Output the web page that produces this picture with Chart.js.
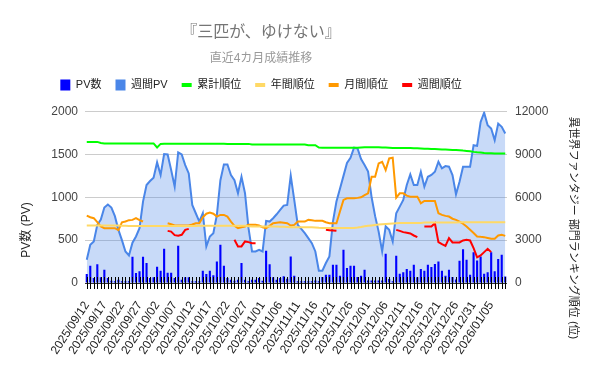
<!DOCTYPE html>
<html>
<head>
<meta charset="utf-8">
<script src="https://cdn.jsdelivr.net/npm/chart.js@4"></script>
<style>
  body { margin: 0; background: #fff; }
</style>
</head>
<body>
<canvas id="grafico" width="600" height="371"></canvas>
<script>
// 日付（2025/09/12 から 120 日）
const dias = [];
for (let i = 0; i < 120; i++) {
    const d = new Date(2025, 8, 12 + i);
    dias.push(d.getFullYear() + '/' + String(d.getMonth() + 1).padStart(2, '0') + '/' + String(d.getDate()).padStart(2, '0'));
}

// PV数（日別）
const pvDiario = [
    105, 200, 58, 220, 66, 155, 58, 27, 20, 39,
    20, 20, 20, 306, 116, 136, 306, 232, 58, 66,
    190, 143, 400, 120, 120, 58, 434, 39, 66, 66,
    20, 20, 20, 143, 105, 143, 89, 252, 446, 200,
    58, 39, 27, 39, 232, 39, 20, 39, 39, 58,
    27, 376, 220, 66, 39, 58, 78, 50, 310, 85,
    20, 20, 20, 20, 20, 30, 20, 70, 97, 97,
    213, 213, 85, 388, 174, 200, 200, 70, 85, 155,
    30, 30, 30, 30, 30, 341, 47, 20, 318, 108,
    124, 163, 143, 213, 66, 163, 143, 213, 186, 221,
    252, 143, 85, 155, 70, 40, 260, 395, 271, 97,
    360, 264, 310, 108, 124, 360, 136, 279, 329, 77
];

// 週間PV
const pvSemanal = [
    271, 446, 484, 678, 740, 880, 915, 880, 780, 620,
    500, 368, 322, 470, 543, 640, 950, 1143, 1190, 1229,
    1407, 1260, 1504, 1500, 1318, 1124, 1523, 1500, 1376, 1279,
    911, 814, 717, 814, 426, 543, 581, 795, 1200, 1384,
    1384, 1260, 1200, 1047, 1240, 1047, 640, 368, 368, 388,
    368, 725, 717, 756, 802, 853, 903, 911, 1252, 969,
    678, 632, 581, 523, 465, 368, 143, 143, 233, 310,
    717, 950, 1100, 1250, 1400, 1461, 1578, 1570, 1446, 1376,
    1300, 1000, 780, 600, 368, 660, 620, 484, 814, 891,
    969, 1143, 1267, 1143, 1143, 1298, 1124, 1240, 1260, 1298,
    1415, 1337, 1364, 1357, 1260, 1035, 1182, 1357, 1357, 1357,
    1608, 1600, 1880, 1988, 1841, 1802, 1667, 1860, 1822, 1744
];

// 累計順位
const rankTotal = [
    9880, 9880, 9880, 9880, 9800, 9770, 9770, 9770, 9770, 9770,
    9770, 9770, 9770, 9770, 9770, 9770, 9770, 9770, 9770, 9770,
    9490, 9740, 9750, 9750, 9750, 9750, 9750, 9750, 9750, 9750,
    9750, 9750, 9750, 9750, 9750, 9750, 9750, 9750, 9750, 9750,
    9740, 9740, 9740, 9740, 9740, 9740, 9740, 9700, 9700, 9700,
    9700, 9700, 9700, 9700, 9700, 9700, 9700, 9700, 9700, 9700,
    9700, 9700, 9700, 9650, 9650, 9650, 9480, 9470, 9470, 9470,
    9470, 9470, 9470, 9470, 9470, 9470, 9470, 9470, 9490, 9510,
    9510, 9510, 9500, 9500, 9490, 9480, 9470, 9460, 9460, 9460,
    9460, 9450, 9450, 9440, 9430, 9420, 9400, 9400, 9390, 9380,
    9370, 9350, 9340, 9330, 9320, 9310, 9300, 9270, 9250, 9230,
    9180, 9150, 9130, 9100, 9090, 9080, 9075, 9075, 9070, 9070
];

// 年間順位
const rankYear = [
    4020, 4020, 4020, 4020, 4020, 4020, 4020, 4020, 4020, 4020,
    4010, 4000, 3990, 3990, 3990, 3990, 3990, 3990, 3990, 3990,
    3990, 3990, 3990, 3990, 3990, 3990, 3990, 3990, 3990, 3990,
    3990, 3990, 4000, 4000, 4000, 4000, 4000, 4000, 4000, 4000,
    4000, 4000, 4000, 4000, 4000, 4000, 3980, 3960, 3950, 3950,
    3950, 3950, 3950, 3950, 3950, 3940, 3930, 3920, 3910, 3900,
    3900, 3900, 3900, 3900, 3900, 3880, 3860, 3850, 3850, 3850,
    3850, 3850, 3850, 3850, 3850, 3850, 3850, 3880, 3920, 3970,
    4000, 4030, 4060, 4090, 4110, 4130, 4150, 4170, 4190, 4200,
    4200, 4200, 4200, 4200, 4200, 4200, 4230, 4230, 4230, 4230,
    4230, 4230, 4230, 4230, 4230, 4230, 4250, 4250, 4250, 4250,
    4250, 4250, 4250, 4250, 4250, 4250, 4250, 4250, 4250, 4250
];

// 月間順位
const rankMonth = [
    4722, 4605, 4536, 4257, 3954, 3838, 3838, 3838, 3838, 3700,
    4250, 4303, 4400, 4419, 4536, 4400, 4303, null, null, null,
    null, null, null, 4187, 4117, 4024, 4024, 4024, 4024, 4024,
    4100, 4187, 4187, 4600, 4850, 4931, 4850, 4652, 4768, 4768,
    4650, 4300, 4000, 3838, 3900, 3954, 4070, 4070, 4070, 4024,
    3900, 3838, 4000, 4187, 4220, 4257, 4220, 4187, 4024, 4070,
    4303, 4303, 4303, 4419, 4400, 4350, 4350, 4350, 4257, 4187,
    4187, 4187, 5000, 5815, 5931, 5931, 5931, 5960, 6000, 6150,
    6280, 7443, 7443, 8374, 8490, 7908, 8723, 8769, 5978, 6280,
    6280, 6117, 6047, 6047, 6047, 5582, 5745, 5745, 5745, 5745,
    4885, 4768, 4700, 4652, 4500, 4419, 4303, 4150, 3954, 3722,
    3500, 3256, 3230, 3210, 3150, 3094, 3100, 3326, 3373, 3300
];

// 週間順位
const rankWeek = [
    null, null, null, null, null, null, null, null, null, null,
    null, null, null, null, null, null, null, null, null, null,
    null, null, null, 3650, 3600, 3350, 3303, 3373, 3722, 3792,
    null, null, null, null, null, null, null, null, null, null,
    null, null, 3024, 2559, 2559, 2908, 2861, 2791, 2791, null,
    null, null, null, null, null, null, null, null, null, null,
    null, null, null, null, null, null, null, null, 3722, 3700,
    3680, 3650, null, null, null, null, null, null, null, null,
    null, null, null, null, null, null, null, null, 3722, 3650,
    3560, 3512, 3466, 3326, 3210, null, 3954, 3954, 3954, 4187,
    2861, 2720, 2600, 3140, 2838, 2838, 2838, 2977, 3024, 2977,
    2442, 1791, 1930, 2163, 2396, 2163, null, null, null, null
];

Chart.defaults.font.family = "'Liberation Sans', 'Noto Sans CJK JP', sans-serif";

// 軸タイトルと目盛り線
const extras = {
    id: 'extras',
    beforeLayout(chart) {
        const lg = chart.legend;
        if (lg && !lg._ajustado) {
            const fit = lg.fit;
            lg.fit = function () { fit.call(this); this.height += 11; };
            lg._ajustado = true;
        }
    },
    beforeDraw(chart) {
        // 右軸ラベルを切り取らない
        chart.scales.y1._computeLabelArea = () => undefined;
    },
    afterDatasetsDraw(chart) {
        const { ctx, scales: { x, y } } = chart;
        const y0 = Math.round(y.getPixelForValue(0));
        ctx.save();
        ctx.strokeStyle = '#000';
        ctx.lineWidth = 1;
        ctx.beginPath();
        dias.forEach((d, i) => {
            const px = Math.round(x.getPixelForValue(i)) + 0.5;
            ctx.moveTo(px, y0 - 6);
            ctx.lineTo(px, y0 + 6);
        });
        ctx.stroke();
        ctx.restore();
    },
    afterDraw(chart) {
        const ctx = chart.ctx;
        ctx.save();
        ctx.fillStyle = '#222';
        ctx.font = "12px 'Liberation Sans', 'Noto Sans CJK JP', sans-serif";
        ctx.textAlign = 'center';
        ctx.textBaseline = 'middle';
        ctx.translate(27, 230);
        ctx.rotate(-Math.PI / 2);
        ctx.fillText('PV数 (PV)', 0, 0);
        ctx.restore();
        ctx.save();
        ctx.fillStyle = '#222';
        ctx.font = "11px 'Liberation Sans', 'Noto Sans CJK JP', sans-serif";
        ctx.textAlign = 'center';
        ctx.textBaseline = 'middle';
        ctx.translate(573, 228);
        ctx.rotate(Math.PI / 2);
        ctx.fillText('異世界ファンタジー 部門ランキング順位 (位)', 0, 0);
        ctx.restore();
    }
};

const ctx = document.getElementById('grafico').getContext('2d');

const grafico = new Chart(ctx, {
    type: 'bar',
    data: {
        labels: dias,
        datasets: [
            {
                type: 'bar',
                label: 'PV数',
                data: pvDiario,
                backgroundColor: '#0000ff',
                barPercentage: 0.6,
                categoryPercentage: 1,
                yAxisID: 'y',
                order: 2
            },
            {
                type: 'line',
                label: '週間PV',
                data: pvSemanal,
                borderColor: '#4a86e8',
                backgroundColor: 'rgba(74, 134, 232, 0.3)',
                fill: 'origin',
                borderWidth: 2,
                pointRadius: 0,
                tension: 0,
                yAxisID: 'y',
                order: 3
            },
            {
                type: 'line',
                label: '累計順位',
                data: rankTotal,
                borderColor: '#00ff00',
                backgroundColor: '#00ff00',
                fill: false,
                borderWidth: 2,
                pointRadius: 0,
                yAxisID: 'y1',
                order: 1
            },
            {
                type: 'line',
                label: '年間順位',
                data: rankYear,
                borderColor: '#ffd966',
                backgroundColor: '#ffd966',
                fill: false,
                borderWidth: 2,
                pointRadius: 0,
                yAxisID: 'y1',
                order: 1
            },
            {
                type: 'line',
                label: '月間順位',
                data: rankMonth,
                borderColor: '#ff9900',
                backgroundColor: '#ff9900',
                fill: false,
                borderWidth: 2,
                pointRadius: 0,
                yAxisID: 'y1',
                order: 1
            },
            {
                type: 'line',
                label: '週間順位',
                data: rankWeek,
                borderColor: '#ff0000',
                backgroundColor: '#ff0000',
                fill: false,
                borderWidth: 2,
                pointRadius: 0,
                yAxisID: 'y1',
                order: 1
            }
        ]
    },
    options: {
        responsive: false,
        animation: false,
        layout: { padding: { right: 78 } },
        plugins: {
            title: {
                display: true,
                text: '『三匹が、ゆけない』',
                color: '#757575',
                font: { size: 16, weight: 'normal' },
                padding: { top: 23, bottom: 5 }
            },
            subtitle: {
                display: true,
                text: '直近4カ月成績推移',
                color: '#999999',
                font: { size: 12 },
                padding: { top: 4, bottom: 0 }
            },
            legend: {
                labels: {
                    usePointStyle: true,
                    pointStyleWidth: 10,
                    boxHeight: 11,
                    padding: 14,
                    color: '#222',
                    font: { size: 11 },
                    sort: (a, b) => a.datasetIndex - b.datasetIndex,
                    generateLabels(chart) {
                        const items = Chart.defaults.plugins.legend.labels.generateLabels(chart);
                        items.forEach(it => {
                            const ds = chart.data.datasets[it.datasetIndex];
                            if (ds.type === 'line' && !ds.fill) {
                                it.pointStyle = 'line';
                                it.lineWidth = 4;
                                it.strokeStyle = ds.borderColor;
                            } else {
                                it.pointStyle = 'rect';
                                it.lineWidth = 0;
                                it.fillStyle = ds.type === 'line' ? ds.borderColor : ds.backgroundColor;
                            }
                        });
                        return items;
                    }
                }
            },
            tooltip: { enabled: false }
        },
        scales: {
            x: {
                grid: { display: false, drawTicks: false },
                border: { display: false },
                ticks: {
                    autoSkip: false,
                    maxRotation: 57,
                    minRotation: 57,
                    padding: 16,
                    color: '#222',
                    font: { size: 12 },
                    callback: (v, i) => (i % 5 === 0 ? dias[i] : '')
                },
                afterFit: s => { s.height = 88; }
            },
            y: {
                position: 'left',
                min: 0,
                max: 2000,
                ticks: {
                    stepSize: 500,
                    color: '#444',
                    font: { size: 12 },
                    padding: 7,
                    callback: v => String(v)
                },
                grid: {
                    color: c => (c.tick.value === 0 ? '#333' : '#cccccc'),
                    drawTicks: false
                },
                border: { display: false },
                afterFit: s => { s.width = 85; }
            },
            y1: {
                position: 'right',
                min: 0,
                max: 12000,
                ticks: {
                    stepSize: 3000,
                    color: '#444',
                    font: { size: 12 },
                    padding: 8,
                    callback: v => String(v)
                },
                grid: { drawOnChartArea: false, drawTicks: false },
                border: { display: false },
                afterFit: s => { s.width = 15; }
            }
        }
    },
    plugins: [extras]
});
</script>
</body>
</html>
